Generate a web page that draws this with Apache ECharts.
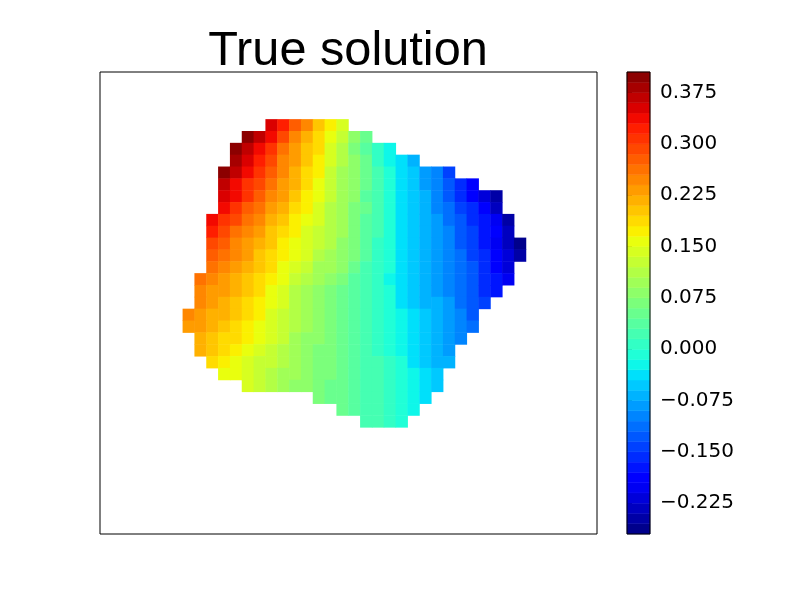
<!DOCTYPE html>
<html>
<head>
<meta charset="utf-8">
<title>True solution</title>
<script src="https://cdn.jsdelivr.net/npm/echarts@6/dist/echarts.min.js"></script>
<style>
  html, body { margin: 0; padding: 0; background: #fff; }
  #chart { width: 800px; height: 600px; }
</style>
</head>
<body>
<div id="chart"></div>
<script>
// contour levels of the colour bar (45 bands)
var levels = [-0.27, -0.255, -0.24, -0.225, -0.21, -0.195, -0.18, -0.165, -0.15, -0.135,
  -0.12, -0.105, -0.09, -0.075, -0.06, -0.045, -0.03, -0.015, 0, 0.015,
  0.03, 0.045, 0.06, 0.075, 0.09, 0.105, 0.12, 0.135, 0.15, 0.165,
  0.18, 0.195, 0.21, 0.225, 0.24, 0.255, 0.27, 0.285, 0.3, 0.315,
  0.33, 0.345, 0.36, 0.375, 0.39, 0.405];

var tickValues = [-0.225, -0.15, -0.075, 0, 0.075, 0.15, 0.225, 0.3, 0.375];

// grid of cells over the axes box: 42 columns, 39 rows
var nCols = 42;
var nRows = 39;

// solution values, one list per grid row (top to bottom)
var firstRow = 4;
var rowFirstCol = [14, 12, 11, 11, 10, 10, 10, 10, 9, 9, 9, 9, 9, 8, 8, 8, 7, 7, 8, 8, 9, 10, 12, 18, 20, 22];
var fieldRows = [
  [0.355, 0.32, 0.275, 0.24, 0.2, 0.17, 0.135],
  [0.39, 0.36, 0.33, 0.29, 0.25, 0.22, 0.19, 0.155, 0.12, 0.085, 0.05],
  [0.39, 0.365, 0.335, 0.3, 0.265, 0.23, 0.205, 0.18, 0.145, 0.11, 0.07, 0.04, 0.01, -0.025],
  [0.385, 0.35, 0.32, 0.285, 0.25, 0.225, 0.195, 0.17, 0.14, 0.105, 0.075, 0.045, 0.01, -0.02, -0.045, -0.065],
  [0.4, 0.37, 0.335, 0.3, 0.27, 0.24, 0.215, 0.19, 0.165, 0.13, 0.1, 0.075, 0.045, 0.015, -0.015, -0.04, -0.06, -0.085, -0.105, -0.14],
  [0.37, 0.34, 0.31, 0.285, 0.26, 0.23, 0.21, 0.18, 0.155, 0.13, 0.1, 0.08, 0.045, 0.015, -0.015, -0.04, -0.06, -0.08, -0.1, -0.13, -0.16, -0.19],
  [0.355, 0.33, 0.3, 0.28, 0.25, 0.23, 0.2, 0.175, 0.15, 0.12, 0.09, 0.075, 0.04, 0.02, -0.01, -0.035, -0.055, -0.075, -0.095, -0.125, -0.155, -0.19, -0.225, -0.255],
  [0.335, 0.305, 0.28, 0.255, 0.235, 0.21, 0.19, 0.165, 0.14, 0.115, 0.09, 0.07, 0.045, 0.015, -0.015, -0.035, -0.055, -0.075, -0.095, -0.115, -0.14, -0.165, -0.195, -0.23],
  [0.34, 0.31, 0.285, 0.265, 0.24, 0.22, 0.2, 0.175, 0.155, 0.135, 0.11, 0.09, 0.07, 0.04, 0.015, -0.01, -0.035, -0.055, -0.07, -0.09, -0.11, -0.13, -0.155, -0.18, -0.21, -0.245],
  [0.315, 0.29, 0.265, 0.245, 0.225, 0.205, 0.185, 0.165, 0.145, 0.13, 0.11, 0.09, 0.065, 0.04, 0.015, -0.01, -0.035, -0.055, -0.07, -0.085, -0.105, -0.125, -0.145, -0.17, -0.195, -0.235],
  [0.295, 0.27, 0.25, 0.23, 0.21, 0.195, 0.175, 0.16, 0.145, 0.125, 0.105, 0.085, 0.065, 0.04, 0.01, -0.01, -0.035, -0.06, -0.075, -0.09, -0.105, -0.125, -0.14, -0.17, -0.2, -0.23, -0.26],
  [0.28, 0.26, 0.245, 0.225, 0.205, 0.19, 0.17, 0.15, 0.135, 0.115, 0.1, 0.08, 0.06, 0.035, 0.01, -0.01, -0.035, -0.06, -0.07, -0.085, -0.1, -0.12, -0.14, -0.16, -0.19, -0.22, -0.25],
  [0.265, 0.25, 0.235, 0.215, 0.2, 0.18, 0.16, 0.14, 0.12, 0.1, 0.09, 0.075, 0.05, 0.025, 0.005, -0.015, -0.035, -0.055, -0.07, -0.085, -0.1, -0.115, -0.135, -0.16, -0.185, -0.215],
  [0.265, 0.25, 0.235, 0.22, 0.205, 0.19, 0.17, 0.15, 0.13, 0.11, 0.09, 0.08, 0.06, 0.035, 0.02, 0, -0.02, -0.035, -0.05, -0.07, -0.08, -0.095, -0.115, -0.135, -0.155, -0.18, -0.205],
  [0.25, 0.235, 0.225, 0.21, 0.195, 0.18, 0.16, 0.14, 0.115, 0.1, 0.085, 0.07, 0.05, 0.03, 0.02, 0.005, -0.015, -0.035, -0.05, -0.065, -0.08, -0.095, -0.11, -0.13, -0.155, -0.175],
  [0.24, 0.23, 0.215, 0.205, 0.19, 0.175, 0.155, 0.135, 0.11, 0.09, 0.08, 0.065, 0.045, 0.03, 0.015, 0.005, -0.015, -0.035, -0.05, -0.065, -0.075, -0.09, -0.11, -0.13, -0.15],
  [0.245, 0.23, 0.22, 0.21, 0.195, 0.18, 0.165, 0.145, 0.13, 0.11, 0.09, 0.08, 0.065, 0.045, 0.03, 0.02, 0.005, -0.015, -0.03, -0.045, -0.06, -0.075, -0.09, -0.105, -0.125],
  [0.235, 0.225, 0.21, 0.2, 0.19, 0.175, 0.16, 0.14, 0.125, 0.105, 0.09, 0.075, 0.065, 0.045, 0.03, 0.02, 0.01, -0.01, -0.025, -0.04, -0.06, -0.07, -0.085, -0.1, -0.12],
  [0.215, 0.2, 0.19, 0.18, 0.165, 0.15, 0.135, 0.12, 0.1, 0.085, 0.075, 0.06, 0.045, 0.03, 0.02, 0.01, -0.01, -0.025, -0.04, -0.055, -0.07, -0.08, -0.095],
  [0.21, 0.195, 0.18, 0.17, 0.155, 0.14, 0.13, 0.11, 0.095, 0.085, 0.07, 0.06, 0.045, 0.03, 0.02, 0.01, -0.005, -0.02, -0.035, -0.055, -0.065, -0.08],
  [0.185, 0.17, 0.16, 0.145, 0.13, 0.12, 0.105, 0.09, 0.08, 0.07, 0.06, 0.045, 0.03, 0.02, 0.015, 0, -0.015, -0.035, -0.05, -0.065, -0.075],
  [0.16, 0.15, 0.14, 0.125, 0.115, 0.1, 0.09, 0.08, 0.07, 0.06, 0.045, 0.035, 0.02, 0.015, 0, -0.015, -0.03, -0.045, -0.06],
  [0.135, 0.12, 0.11, 0.095, 0.085, 0.075, 0.07, 0.055, 0.045, 0.035, 0.02, 0.015, 0, -0.015, -0.03, -0.04, -0.055],
  [0.065, 0.055, 0.045, 0.035, 0.02, 0.015, 0, -0.015, -0.025, -0.04],
  [0.045, 0.035, 0.025, 0.015, 0, -0.015, -0.025],
  [0.025, 0.015, 0.005, -0.01]
];

// jet colour map (matplotlib segment data)
var jetR = [[0, 0], [0.35, 0], [0.66, 1], [0.89, 1], [1, 0.5]];
var jetG = [[0, 0], [0.125, 0], [0.375, 1], [0.64, 1], [0.91, 0], [1, 0]];
var jetB = [[0, 0.5], [0.11, 1], [0.34, 1], [0.65, 0], [1, 0]];
function segValue(pts, t) {
  for (var i = 1; i < pts.length; i++) {
    if (t <= pts[i][0]) {
      var a = pts[i - 1], b = pts[i];
      return a[1] + (b[1] - a[1]) * (t - a[0]) / (b[0] - a[0]);
    }
  }
  return pts[pts.length - 1][1];
}
function jet(t) {
  return 'rgb(' + Math.round(255 * segValue(jetR, t)) + ',' +
    Math.round(255 * segValue(jetG, t)) + ',' +
    Math.round(255 * segValue(jetB, t)) + ')';
}

var vmin = levels[0], vmax = levels[levels.length - 1];
var pieces = [];
var bands = [];
for (var i = 0; i < levels.length - 1; i++) {
  var col = jet(((levels[i] + levels[i + 1]) / 2 - vmin) / (vmax - vmin));
  pieces.push({ gte: levels[i], lt: levels[i + 1], color: col });
  bands.push([levels[i], levels[i + 1]]);
}
pieces[pieces.length - 1] = { gte: levels[levels.length - 2], lte: vmax, color: pieces[pieces.length - 1].color };

var heatData = [];
fieldRows.forEach(function (row, r) {
  row.forEach(function (v, j) {
    heatData.push([rowFirstCol[r] + j, firstRow + r, v]);
  });
});

var colCats = [], rowCats = [];
for (var c = 0; c < nCols; c++) colCats.push(c);
for (var r = 0; r < nRows; r++) rowCats.push(r);

var myChart = echarts.init(document.getElementById('chart'), null, { renderer: 'canvas' });
myChart.setOption({
  animation: false,
  backgroundColor: '#fff',
  title: {
    text: 'True solution',
    left: 343,
    top: 22,
    textAlign: 'center',
    textStyle: { fontFamily: 'Liberation Sans', fontSize: 48.7, fontWeight: 'normal', color: '#000' }
  },
  grid: [
    { left: 100, top: 72, width: 497, height: 462, show: true, z: 10,
      backgroundColor: 'transparent', borderColor: '#000', borderWidth: 1 },
    { left: 627, top: 72, width: 23, height: 462, show: true, z: 10,
      backgroundColor: 'transparent', borderColor: '#000', borderWidth: 1 }
  ],
  xAxis: [
    { type: 'category', gridIndex: 0, data: colCats, show: false },
    { type: 'value', gridIndex: 1, min: 0, max: 1, show: false }
  ],
  yAxis: [
    { type: 'category', gridIndex: 0, data: rowCats, inverse: true, show: false },
    {
      type: 'value', gridIndex: 1, position: 'right', min: vmin, max: vmax,
      axisLine: { show: false },
      splitLine: { show: false },
      axisTick: { show: true, length: 5, customValues: tickValues, lineStyle: { color: '#000', width: 1 } },
      axisLabel: {
        customValues: tickValues, margin: 10, color: '#000',
        fontFamily: 'DejaVu Sans', fontSize: 20,
        formatter: function (v) { return v.toFixed(3).replace('-', '\u2212'); }
      }
    }
  ],
  visualMap: {
    type: 'piecewise', show: false, seriesIndex: 0, dimension: 2, pieces: pieces
  },
  series: [
    {
      type: 'heatmap', xAxisIndex: 0, yAxisIndex: 0, data: heatData,
      itemStyle: { borderWidth: 0 },
      emphasis: { disabled: true }, silent: true
    },
    {
      type: 'custom', xAxisIndex: 1, yAxisIndex: 1, data: bands, silent: true,
      renderItem: function (params, api) {
        var lo = api.value(0), hi = api.value(1);
        var p1 = api.coord([0, hi]);
        var p2 = api.coord([1, lo]);
        var t = ((lo + hi) / 2 - vmin) / (vmax - vmin);
        return {
          type: 'rect',
          shape: { x: p1[0], y: p1[1], width: p2[0] - p1[0], height: p2[1] - p1[1] },
          style: { fill: jet(t), stroke: jet(t), lineWidth: 0.5 }
        };
      }
    }
  ]
});
window.addEventListener('resize', myChart.resize);
</script>
</body>
</html>
